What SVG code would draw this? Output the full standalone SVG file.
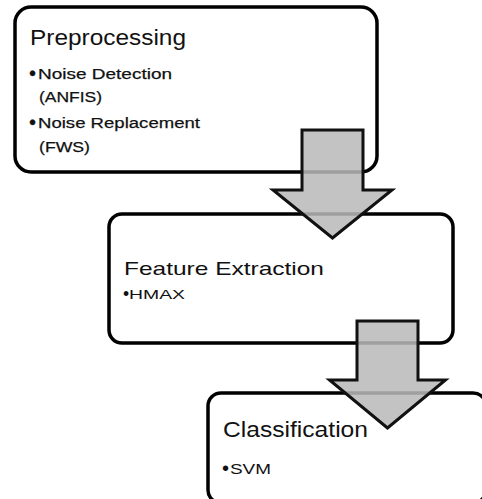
<svg xmlns="http://www.w3.org/2000/svg" width="482" height="499" viewBox="0 0 482 499">
<style>
.box{fill:#fff;stroke:#000;stroke-width:3.5}
.arrow{fill:#b9b9b9;fill-opacity:0.86;stroke:#111;stroke-width:3;stroke-linejoin:miter}
text{font-family:"Liberation Sans",Arial,sans-serif;fill:#111}
.heavy{stroke:#111;stroke-width:0.25}
.dot{font-size:1.3em}
</style>
<g id="node-preprocessing">
<rect class="box" x="15" y="7" width="362" height="165" rx="16"/>
<text x="30" y="45" font-size="22" textLength="156" lengthAdjust="spacingAndGlyphs">Preprocessing</text>
<text class="heavy" font-size="15.5"><tspan class="dot" x="29" y="80">•</tspan><tspan x="38" y="79" textLength="134" lengthAdjust="spacingAndGlyphs">Noise Detection</tspan></text>
<text class="heavy" x="39" y="102" font-size="15.5" textLength="63" lengthAdjust="spacingAndGlyphs">(ANFIS)</text>
<text class="heavy" font-size="15.5"><tspan class="dot" x="29" y="129">•</tspan><tspan x="38" y="128" textLength="162" lengthAdjust="spacingAndGlyphs">Noise Replacement</tspan></text>
<text class="heavy" x="39" y="152" font-size="15.5" textLength="51" lengthAdjust="spacingAndGlyphs">(FWS)</text>
</g>
<g id="node-feature-extraction">
<rect class="box" x="109" y="214" width="344" height="129" rx="13"/>
<text x="124" y="275" font-size="19" textLength="200" lengthAdjust="spacingAndGlyphs">Feature Extraction</text>
<text font-size="13.5"><tspan class="dot" x="123" y="300">•</tspan><tspan x="129" y="299" textLength="56" lengthAdjust="spacingAndGlyphs">HMAX</tspan></text>
</g>
<g id="node-classification">
<rect class="box" x="208" y="393" width="278" height="110" rx="13"/>
<text x="223" y="437" font-size="22.5" textLength="145" lengthAdjust="spacingAndGlyphs">Classification</text>
<text font-size="15.5"><tspan class="dot" x="222" y="475">•</tspan><tspan x="230" y="474" textLength="41" lengthAdjust="spacingAndGlyphs">SVM</tspan></text>
</g>
<g id="connectors">
<polygon class="arrow" points="302,130 363,130 363,190 392,190 332.5,238 273,190 302,190"/>
<polygon class="arrow" points="357,321 418,321 418,380 445.5,380 387.5,428 329.5,380 357,380"/>
</g>
</svg>
